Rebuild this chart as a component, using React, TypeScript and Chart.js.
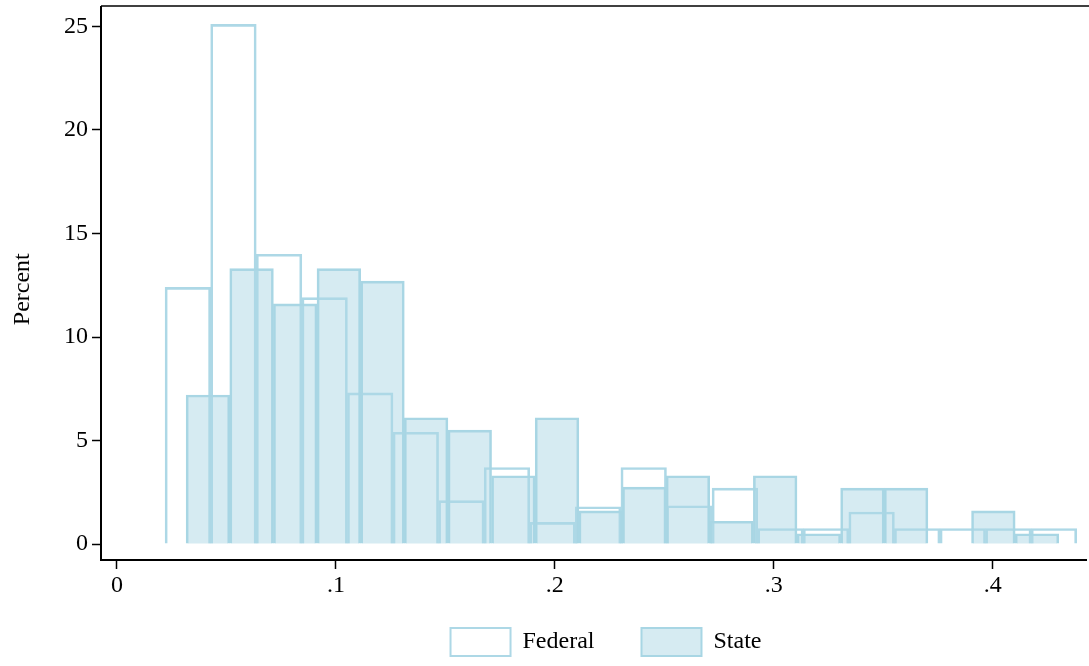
import React, { useEffect, useRef } from "react";
import { Chart, registerables } from "chart.js";
Chart.register(...registerables);

const fedStart = 0.02197;
const fedWidth = 0.02082;
const fedValues = [12.4, 25.1, 14.0, 11.9, 7.3, 5.4, 2.1, 3.7, 1.05, 1.8, 3.7, 1.85, 2.7, 0.75, 0.75, 1.55, 0.75, 0.75, 0.75, 0.75];
const stateStart = 0.03158;
const stateWidth = 0.01993;
const stateValues = [7.2, 13.3, 11.6, 13.3, 12.7, 6.1, 5.5, 3.3, 6.1, 1.6, 2.75, 3.3, 1.1, 3.3, 0.5, 2.7, 2.7, 0, 1.6, 0.5];
const xTicks = [0, 0.1, 0.2, 0.3, 0.4];
const yTicks = [0, 5, 10, 15, 20, 25];

const XMIN = -0.0073, XMAX = 0.4426;
const FONT = "'Liberation Serif', 'Times New Roman', serif";

export default function App() {
  const ref = useRef<HTMLCanvasElement>(null);
  useEffect(() => {
    const fed = fedValues.map((v, i) => ({ x: fedStart + fedWidth * (i + 0.5), y: v }));
    const st = stateValues.map((v, i) => ({ x: stateStart + stateWidth * (i + 0.5), y: v === 0 ? null : v }));
    const boxPlugin = {
      id: "box",
      afterLayout(c: any) {
        const lg = c.legend;
        if (lg) {
          lg.left += 63;
          lg.right += 63;
          if (lg.adjustHitBoxes) lg.adjustHitBoxes();
        }
      },
      afterDraw(c: any) {
        const { ctx, chartArea: a } = c;
        const topY = 6;
        ctx.save();
        ctx.strokeStyle = "#000";
        ctx.lineWidth = 2;
        ctx.beginPath();
        ctx.moveTo(a.left, a.top + 1);
        ctx.lineTo(a.left, topY);
        ctx.stroke();
        ctx.lineWidth = 1.5;
        ctx.beginPath();
        ctx.moveTo(a.left, topY);
        ctx.lineTo(a.right + 3, topY);
        ctx.stroke();
        ctx.restore();
      },
    };
    const chart = new Chart(ref.current!, {
      type: "bar",
      data: {
        datasets: [
          {
            label: "Federal",
            data: fed as any,
            xAxisID: "x",
            backgroundColor: "rgba(255,255,255,0)",
            borderColor: "#add8e6",
            borderWidth: 2,
            grouped: false,
            order: 1,
          },
          {
            label: "State",
            data: st as any,
            xAxisID: "x2",
            backgroundColor: "rgba(173,216,230,0.5)",
            borderColor: "#a8d6e4",
            borderWidth: 2,
            grouped: false,
            order: 0,
          },
        ],
      },
      options: {
        animation: false,
        responsive: false,
        layout: { padding: { top: 0, right: 3, left: 0, bottom: 0 } },
        plugins: {
          tooltip: { enabled: false },
          legend: {
            position: "bottom",
            labels: {
              boxWidth: 60,
              boxHeight: 28,
              padding: 5,
              color: "#000",
              font: { family: FONT, size: 24 },
              generateLabels: (c: any) =>
                c.data.datasets.map((d: any, i: number) => ({
                  text: i === 0 ? d.label + "       " : d.label,
                  fillStyle: i === 0 ? "#fff" : "rgba(173,216,230,0.5)",
                  strokeStyle: d.borderColor,
                  lineWidth: 2,
                  datasetIndex: i,
                })),
            },
          },
        },
        scales: {
          x: {
            type: "linear",
            offset: false,
            min: XMIN,
            max: XMAX,
            grid: { display: true, drawOnChartArea: false, drawTicks: true, tickLength: 9, tickColor: "#000", tickWidth: 1.5, offset: false },
            border: { color: "#000", width: 2 },
            afterBuildTicks: (s: any) => { s.ticks = xTicks.map((v) => ({ value: v })); },
            afterFit: (s: any) => { s.height = 666 - 560 - (s.chart.legend?.height || 50); },
            ticks: {
              color: "#000",
              font: { family: FONT, size: 24 },
              padding: 2,
              maxRotation: 0,
              callback: (v: any) => (v === 0 ? "0" : Number(v).toFixed(1).replace(/^0/, "")),
            },
          },
          x2: {
            type: "linear",
            offset: false,
            min: XMIN,
            max: XMAX,
            display: false,
          },
          y: {
            min: -0.77,
            max: 25.39,
            grid: { display: true, drawOnChartArea: false, drawTicks: true, tickLength: 9, tickColor: "#000", tickWidth: 1.5 },
            border: { color: "#000", width: 2 },
            afterBuildTicks: (s: any) => { s.ticks = yTicks.map((v) => ({ value: v })); },
            afterFit: (s: any) => { s.width = 101; },
            ticks: { color: "#000", font: { family: FONT, size: 24 }, padding: 4 },
            title: { display: true, text: "Percent", color: "#000", font: { family: FONT, size: 24 }, padding: 8 },
          },
        },
      },
      plugins: [boxPlugin],
    });
    const x = chart.scales.x;
    const w = (v: number) => Math.abs(x.getPixelForValue(v) - x.getPixelForValue(0));
    (chart.data.datasets[0] as any).barThickness = w(fedWidth);
    (chart.data.datasets[1] as any).barThickness = w(stateWidth);
    chart.update();
    return () => chart.destroy();
  }, []);
  return (
    <div style={{ position: "absolute", left: 0, top: 0, width: 1089, height: 666, background: "#fff" }}>
      <canvas ref={ref} width={1089} height={666} style={{ width: 1089, height: 666 }} />
    </div>
  );
}
